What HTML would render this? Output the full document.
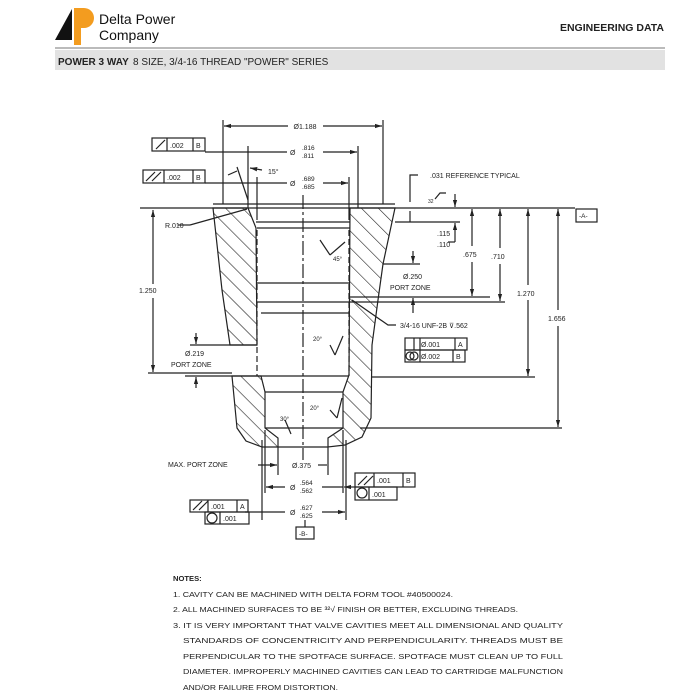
<!DOCTYPE html>
<html><head><meta charset="utf-8"><style>
html,body{margin:0;padding:0;background:#fff;}
svg{display:block;font-family:"Liberation Sans",Arial,sans-serif;}
</style></head><body>
<svg width="700" height="700" viewBox="0 0 700 700" xmlns="http://www.w3.org/2000/svg">
<defs>
<pattern id="h" patternUnits="userSpaceOnUse" width="12" height="12" patternTransform="rotate(-45)">
<line x1="0" y1="0" x2="0" y2="12" stroke="#222" stroke-width="1.2"/>
</pattern>
<marker id="a" viewBox="0 0 10 10" refX="10" refY="5" markerWidth="6" markerHeight="6" orient="auto-start-reverse"><path d="M0,2 L10,5 L0,8z" fill="#222"/></marker>
</defs>
<polygon points="55,40 72,9 72,40" fill="#111"/>
<path d="M74,8 h10 a10,10 0 0 1 0,20 h-3 v17 h-7z" fill="#f39c1f"/>
<text x="99" y="24" font-size="14" fill="#111">Delta Power</text>
<text x="99" y="40" font-size="14" fill="#111">Company</text>
<text x="664" y="31" font-size="10.5" font-weight="bold" text-anchor="end" fill="#222">ENGINEERING DATA</text>
<rect x="55" y="47" width="610" height="2" fill="#bbb"/>
<rect x="55" y="50" width="610" height="20" fill="#e2e2e2"/>
<text x="58" y="65" font-size="10" font-weight="bold" fill="#222">POWER 3 WAY</text>
<text x="133" y="65" font-size="10" fill="#222">8 SIZE, 3/4-16 THREAD "POWER" SERIES</text>

<g stroke="#222" stroke-width="1.2" fill="none">
<polygon points="213,208 248,208 256,228 257,345 230,345 222,290" fill="url(#h)"/>
<polygon points="232,376 261,376 265,392 265,428 278,438 278,447 262,447 246,441 237,428" fill="url(#h)"/>
<polygon points="350,208 395,208 383,264 378,300 372,345 371,418 362,437 345,445 328,447 328,438 343,428 343,392 349,375" fill="url(#h)"/>
<line x1="140" y1="208" x2="575" y2="208"/>
<line x1="213" y1="204" x2="395" y2="204"/>
<line x1="248" y1="204" x2="248" y2="208"/><line x1="358" y1="204" x2="358" y2="208"/>
<line x1="256" y1="222" x2="350" y2="222"/><line x1="257" y1="228" x2="350" y2="228"/>
<line x1="257" y1="283" x2="350" y2="283"/>
<line x1="257" y1="302" x2="350" y2="302"/><line x1="261" y1="313" x2="349" y2="313"/>
<line x1="230" y1="345" x2="257" y2="345"/><line x1="232" y1="376" x2="349" y2="376"/>
<line x1="265" y1="392" x2="343" y2="392"/>
<line x1="265" y1="428" x2="343" y2="428"/>
<line x1="278" y1="447" x2="328" y2="447"/>
<line x1="257" y1="230" x2="257" y2="376" stroke-dasharray="6,3"/>
<line x1="349" y1="230" x2="349" y2="376" stroke-dasharray="6,3"/>
<line x1="383" y1="264" x2="420" y2="264"/><line x1="349" y1="297" x2="490" y2="297"/><line x1="349" y1="302" x2="505" y2="302"/>
<line x1="371" y1="377" x2="535" y2="377"/><line x1="360" y1="428" x2="562" y2="428"/>
<line x1="303" y1="195" x2="303" y2="460" stroke-dasharray="14,3,3,3"/>
<line x1="223" y1="120" x2="223" y2="204"/><line x1="383" y1="120" x2="383" y2="204"/>
<line x1="288" y1="126" x2="224" y2="126" marker-end="url(#a)"/><line x1="323" y1="126" x2="382" y2="126" marker-end="url(#a)"/>
<line x1="248" y1="146" x2="248" y2="204"/><line x1="358" y1="146" x2="358" y2="204"/>
<line x1="205" y1="152" x2="287" y2="152"/><line x1="323" y1="152" x2="357" y2="152" marker-end="url(#a)"/>
<line x1="257" y1="177" x2="257" y2="220"/><line x1="349" y1="177" x2="349" y2="220"/>
<line x1="205" y1="183" x2="287" y2="183"/><line x1="323" y1="183" x2="348" y2="183" marker-end="url(#a)"/>
<line x1="237" y1="167" x2="248" y2="200"/><line x1="228" y1="175" x2="237" y2="171"/>
<line x1="262" y1="170" x2="250" y2="168" marker-end="url(#a)"/>
<line x1="178" y1="225" x2="190" y2="225"/><line x1="190" y1="225" x2="247" y2="209"/>
<line x1="153" y1="284" x2="153" y2="210" marker-end="url(#a)"/><line x1="153" y1="298" x2="153" y2="372" marker-end="url(#a)"/><line x1="148" y1="373" x2="232" y2="373"/>
<line x1="190" y1="345" x2="230" y2="345"/>
<line x1="196" y1="333" x2="196" y2="344" marker-end="url(#a)"/><line x1="196" y1="388" x2="196" y2="377" marker-end="url(#a)"/><line x1="185" y1="376" x2="232" y2="376"/>
<path d="M418,175 h-8 v27"/>
<line x1="410" y1="211" x2="410" y2="222"/><line x1="395" y1="222" x2="460" y2="222"/>
<line x1="455" y1="194" x2="455" y2="207" marker-end="url(#a)"/><line x1="455" y1="242" x2="455" y2="223" marker-end="url(#a)"/><line x1="448" y1="242" x2="455" y2="242"/>
<path d="M435,199 l5,-6 h6"/>
<line x1="472" y1="246" x2="472" y2="209" marker-end="url(#a)"/><line x1="472" y1="262" x2="472" y2="296" marker-end="url(#a)"/>
<line x1="500" y1="248" x2="500" y2="209" marker-end="url(#a)"/><line x1="500" y1="264" x2="500" y2="301" marker-end="url(#a)"/>
<line x1="528" y1="285" x2="528" y2="209" marker-end="url(#a)"/><line x1="528" y1="300" x2="528" y2="376" marker-end="url(#a)"/>
<line x1="558" y1="310" x2="558" y2="209" marker-end="url(#a)"/><line x1="558" y1="326" x2="558" y2="427" marker-end="url(#a)"/>
<line x1="413" y1="251" x2="413" y2="263" marker-end="url(#a)"/><line x1="413" y1="313" x2="413" y2="298" marker-end="url(#a)"/>
<path d="M396,325 h-8 L352,300"/>
<line x1="320" y1="240" x2="330" y2="255"/><line x1="330" y1="255" x2="345" y2="242"/>
<line x1="330" y1="345" x2="335" y2="355"/><line x1="335" y1="355" x2="343" y2="336"/>
<line x1="330" y1="410" x2="337" y2="418"/><line x1="337" y1="418" x2="342" y2="398"/>
<line x1="285" y1="420" x2="291" y2="434"/>
<line x1="278" y1="447" x2="278" y2="475"/><line x1="328" y1="447" x2="328" y2="475"/>
<line x1="258" y1="465" x2="277" y2="465" marker-end="url(#a)"/><line x1="318" y1="465" x2="327" y2="465"/>
<line x1="265" y1="430" x2="265" y2="493"/><line x1="343" y1="430" x2="343" y2="493"/>
<line x1="285" y1="487" x2="266" y2="487" marker-end="url(#a)"/><line x1="355" y1="487" x2="344" y2="487" marker-end="url(#a)"/><line x1="322" y1="487" x2="343" y2="487"/>
<line x1="262" y1="440" x2="262" y2="520"/><line x1="346" y1="440" x2="346" y2="520"/>
<line x1="245" y1="512" x2="285" y2="512"/><line x1="322" y1="512" x2="345" y2="512" marker-end="url(#a)"/>
<line x1="305" y1="520" x2="305" y2="527"/>
<rect x="152" y="138" width="53" height="13"/><line x1="167" y1="138" x2="167" y2="151"/><line x1="193" y1="138" x2="193" y2="151"/>
<rect x="143" y="170" width="62" height="13"/><line x1="164" y1="170" x2="164" y2="183"/><line x1="193" y1="170" x2="193" y2="183"/>
<rect x="405" y="338" width="62" height="12"/><line x1="414" y1="338" x2="414" y2="350"/><line x1="420" y1="338" x2="420" y2="350"/><line x1="455" y1="338" x2="455" y2="350"/>
<rect x="405" y="350" width="60" height="12"/><line x1="420" y1="350" x2="420" y2="362"/><line x1="453" y1="350" x2="453" y2="362"/>
<rect x="355" y="473" width="60" height="14"/><line x1="374" y1="473" x2="374" y2="487"/><line x1="403" y1="473" x2="403" y2="487"/>
<rect x="355" y="487" width="42" height="13"/><line x1="369" y1="487" x2="369" y2="500"/>
<rect x="190" y="500" width="58" height="12"/><line x1="208" y1="500" x2="208" y2="512"/><line x1="237" y1="500" x2="237" y2="512"/>
<rect x="205" y="512" width="44" height="12"/><line x1="220" y1="512" x2="220" y2="524"/>
<rect x="296" y="527" width="18" height="12"/>
<rect x="576" y="209" width="21" height="13"/>
<circle cx="212" cy="518" r="5"/><circle cx="362" cy="493" r="5"/><circle cx="410" cy="356" r="4"/><circle cx="414" cy="356" r="4"/>
<path d="M156,149 l9,-9 M146,181 l9,-9 M152,181 l9,-9 M193,510 l9,-9 M199,510 l9,-9 M358,485 l9,-9 M364,485 l9,-9"/>
</g>
<g font-size="7" fill="#222">
<text x="305" y="129" text-anchor="middle">Ø1.188</text>
<text x="290" y="155">Ø</text><text x="302" y="150" font-size="6.5">.816</text><text x="302" y="158" font-size="6.5">.811</text>
<text x="290" y="186">Ø</text><text x="302" y="181" font-size="6.5">.689</text><text x="302" y="189" font-size="6.5">.685</text>
<text x="268" y="174">15°</text>
<text x="165" y="228">R.010</text>
<text x="430" y="178">.031 REFERENCE TYPICAL</text>
<text x="428" y="203" font-size="5">32</text>
<text x="437" y="236">.115</text><text x="437" y="247">.110</text>
<text x="463" y="257">.675</text><text x="491" y="259">.710</text>
<text x="517" y="296">1.270</text><text x="548" y="321">1.656</text>
<text x="139" y="293">1.250</text>
<text x="403" y="279">Ø.250</text><text x="390" y="290">PORT ZONE</text>
<text x="400" y="328">3/4-16 UNF-2B ⊽.562</text>
<text x="333" y="261" font-size="6">45°</text>
<text x="313" y="341" font-size="6">20°</text><text x="310" y="410" font-size="6">20°</text><text x="280" y="421" font-size="6">30°</text>
<text x="185" y="356">Ø.219</text><text x="171" y="367">PORT ZONE</text>
<text x="168" y="467">MAX. PORT ZONE</text>
<text x="292" y="468">Ø.375</text>
<text x="290" y="490">Ø</text><text x="300" y="485" font-size="6.5">.564</text><text x="300" y="493" font-size="6.5">.562</text>
<text x="290" y="515">Ø</text><text x="300" y="510" font-size="6.5">.627</text><text x="300" y="518" font-size="6.5">.625</text>
<text x="299" y="536" font-size="6.5">-B-</text><text x="579" y="218" font-size="6.5">-A-</text>
<text x="170" y="148">.002</text><text x="196" y="148">B</text>
<text x="167" y="180">.002</text><text x="196" y="180">B</text>
<text x="421" y="347">Ø.001</text><text x="458" y="347">A</text>
<text x="421" y="359">Ø.002</text><text x="456" y="359">B</text>
<text x="377" y="483">.001</text><text x="406" y="483">B</text><text x="372" y="497">.001</text>
<text x="211" y="509">.001</text><text x="240" y="509">A</text><text x="223" y="521">.001</text>
</g>
<g font-size="7.6" fill="#222">
<text x="173" y="581" font-weight="bold">NOTES:</text>
<text x="173" y="597" textLength="280" lengthAdjust="spacingAndGlyphs">1. CAVITY CAN BE MACHINED WITH DELTA FORM TOOL #40500024.</text>
<text x="173" y="612" textLength="345" lengthAdjust="spacingAndGlyphs">2. ALL MACHINED SURFACES TO BE ³²√ FINISH OR BETTER, EXCLUDING THREADS.</text>
<text x="173" y="628" textLength="390" lengthAdjust="spacingAndGlyphs">3. IT IS VERY IMPORTANT THAT VALVE CAVITIES MEET ALL DIMENSIONAL AND QUALITY</text>
<text x="183" y="643" textLength="380" lengthAdjust="spacingAndGlyphs">STANDARDS  OF  CONCENTRICITY  AND  PERPENDICULARITY.  THREADS  MUST  BE</text>
<text x="183" y="659" textLength="380" lengthAdjust="spacingAndGlyphs">PERPENDICULAR TO THE SPOTFACE SURFACE. SPOTFACE MUST CLEAN UP TO FULL</text>
<text x="183" y="674" textLength="380" lengthAdjust="spacingAndGlyphs">DIAMETER. IMPROPERLY MACHINED CAVITIES CAN LEAD TO CARTRIDGE MALFUNCTION</text>
<text x="183" y="690" textLength="155" lengthAdjust="spacingAndGlyphs">AND/OR FAILURE FROM DISTORTION.</text>
</g>
</svg>
</body></html>
